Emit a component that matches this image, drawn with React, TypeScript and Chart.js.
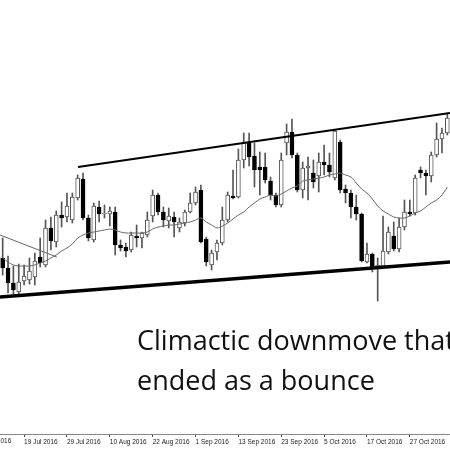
import React, { useEffect, useRef } from 'react';
import { Chart, registerables } from 'chart.js';

Chart.register(...registerables);

// One bar per trading day, 13 Jul 2016 .. 7 Nov 2016
const dates = [
  '13 Jul 2016', '14 Jul 2016', '15 Jul 2016', '18 Jul 2016', '19 Jul 2016', '20 Jul 2016', '21 Jul 2016',
  '22 Jul 2016', '25 Jul 2016', '26 Jul 2016', '27 Jul 2016', '28 Jul 2016', '29 Jul 2016',
  '1 Aug 2016', '2 Aug 2016', '3 Aug 2016', '4 Aug 2016', '5 Aug 2016', '8 Aug 2016', '9 Aug 2016',
  '10 Aug 2016', '11 Aug 2016', '12 Aug 2016', '15 Aug 2016', '16 Aug 2016', '17 Aug 2016', '18 Aug 2016',
  '19 Aug 2016', '22 Aug 2016', '23 Aug 2016', '24 Aug 2016', '25 Aug 2016', '26 Aug 2016', '29 Aug 2016',
  '30 Aug 2016', '31 Aug 2016',
  '1 Sep 2016', '2 Sep 2016', '5 Sep 2016', '6 Sep 2016', '7 Sep 2016', '8 Sep 2016', '9 Sep 2016',
  '12 Sep 2016', '13 Sep 2016', '14 Sep 2016', '15 Sep 2016', '16 Sep 2016', '19 Sep 2016', '20 Sep 2016',
  '21 Sep 2016', '22 Sep 2016', '23 Sep 2016', '26 Sep 2016', '27 Sep 2016', '28 Sep 2016', '29 Sep 2016',
  '30 Sep 2016',
  '3 Oct 2016', '4 Oct 2016', '5 Oct 2016', '6 Oct 2016', '7 Oct 2016', '10 Oct 2016', '11 Oct 2016',
  '12 Oct 2016', '13 Oct 2016', '14 Oct 2016', '17 Oct 2016', '18 Oct 2016', '19 Oct 2016', '20 Oct 2016',
  '21 Oct 2016', '24 Oct 2016', '25 Oct 2016', '26 Oct 2016', '27 Oct 2016', '28 Oct 2016', '31 Oct 2016',
  '1 Nov 2016', '2 Nov 2016', '3 Nov 2016', '4 Nov 2016', '7 Nov 2016',
];

const tickDates = [
  '19 Jul 2016', '29 Jul 2016', '10 Aug 2016', '22 Aug 2016', '1 Sep 2016',
  '13 Sep 2016', '23 Sep 2016', '5 Oct 2016', '17 Oct 2016', '27 Oct 2016',
];
const offChartTick = '7 Jul 2016';
const offChartTickBarsBefore = 4;

const open = [
  176, 166, 151, 142, 153, 154, 157, 177, 169, 206, 192, 219, 217, 214, 236, 255, 216, 194, 227, 220,
  220, 222, 189, 187, 184, 198, 196, 199, 218, 239, 222, 213, 217, 206, 211, 222, 231, 244, 195, 169,
  182, 191, 214, 238, 237, 274, 291, 278, 267, 267, 253, 239, 229, 291, 302, 279, 244, 266, 261, 258,
  272, 269, 256, 292, 245, 241, 227, 220, 172, 180, 166, 168, 182, 198, 185, 207, 222, 221, 264, 261,
  258, 279, 295, 301,
];
const high = [
  196, 178, 168, 170, 169, 176, 181, 196, 214, 217, 223, 232, 241, 241, 259, 261, 219, 231, 233, 229,
  227, 227, 194, 191, 202, 209, 202, 222, 244, 241, 227, 226, 222, 216, 224, 241, 247, 249, 197, 184,
  194, 227, 242, 264, 285, 301, 301, 291, 282, 281, 257, 241, 281, 310, 315, 281, 272, 277, 274, 281,
  289, 281, 304, 294, 249, 244, 239, 221, 191, 181, 176, 218, 207, 212, 216, 234, 234, 259, 267, 264,
  282, 311, 306, 321,
];
const low = [
  159, 141, 139, 139, 149, 150, 149, 167, 167, 184, 187, 207, 212, 211, 234, 214, 193, 192, 212, 216,
  208, 179, 183, 177, 182, 187, 186, 197, 212, 219, 207, 206, 197, 202, 208, 221, 229, 191, 168, 164,
  174, 189, 212, 235, 236, 266, 268, 247, 239, 251, 234, 227, 227, 279, 276, 242, 236, 234, 246, 242,
  259, 257, 254, 241, 231, 216, 214, 172, 171, 162, 133, 166, 180, 183, 182, 204, 218, 219, 256, 239,
  252, 277, 281, 299,
];
const close = [
  166, 151, 144, 152, 158, 163, 173, 171, 206, 193, 219, 216, 228, 237, 256, 216, 196, 228, 220, 221,
  223, 189, 186, 183, 199, 196, 201, 214, 239, 222, 214, 218, 212, 212, 222, 231, 242, 192, 172, 181,
  191, 214, 239, 236, 274, 291, 277, 264, 264, 254, 239, 229, 274, 302, 279, 244, 266, 268, 252, 272,
  269, 262, 303, 244, 241, 227, 220, 173, 180, 166, 169, 183, 202, 185, 207, 222, 220, 256, 261, 258,
  279, 295, 301, 316,
];

// Moving average, one value per bar
const maValues = [
  176, 172, 169, 168, 168, 168, 169, 171, 173, 176, 179, 183, 186, 190, 196, 199, 201, 202, 203, 204,
  205, 204, 202, 201, 201, 201, 201, 202, 205, 207, 208, 209, 209, 210, 211, 212, 214, 216, 212, 209,
  206, 208, 211, 215, 219, 222, 227, 231, 235, 237, 239, 238, 240, 243, 246, 248, 253, 254, 255, 256,
  257, 259, 260, 261, 259, 257, 251, 245, 241, 235, 228, 223, 220, 217, 216, 216, 218, 221, 223, 227,
  231, 234, 239, 247,
];

// Hand-drawn lines: [bar index, price]
const upperTrend = [{ x: 14.06, y: 267 }, { x: 83.5, y: 321 }];
const lowerTrend = [{ x: -0.5, y: 137 }, { x: 83.5, y: 172 }];
const olderLine = [{ x: -0.5, y: 199 }, { x: 10.1, y: 177 }];

const annotationLines = ['Climactic downmove that', 'ended as a bounce'];

export default function App() {
  const ref = useRef<HTMLCanvasElement>(null);

  useEffect(() => {
    document.body.style.margin = '0';
    const canvas = ref.current;
    if (!canvas) return;
    const bull = close.map((c, i) => c >= open[i]);
    const tickSet = new Set(tickDates);

    const annotPlugin = {
      id: 'annot',
      afterDraw(chart: any) {
        const { ctx } = chart;
        const xs = chart.scales.x;
        const step = xs.getPixelForValue(1) - xs.getPixelForValue(0);
        ctx.save();
        ctx.font = '6.5px "Liberation Sans"';
        ctx.fillStyle = '#222';
        ctx.textBaseline = 'top';
        ctx.textAlign = 'left';
        ctx.fillText(offChartTick, xs.getPixelForValue(0) - offChartTickBarsBefore * step, xs.top + 4);
        ctx.font = '27px "Open Sans"';
        ctx.fillStyle = '#111';
        ctx.textBaseline = 'alphabetic';
        ctx.fillText(annotationLines[0], 137, 350);
        ctx.fillText(annotationLines[1], 137, 390);
        ctx.restore();
      },
    };

    const chart = new Chart(canvas, {
      type: 'bar',
      data: {
        labels: dates,
        datasets: [
          {
            type: 'line', label: 'upper', data: upperTrend, xAxisID: 'xl',
            borderColor: '#000', borderWidth: 2, pointRadius: 0, order: 0,
          } as any,
          {
            type: 'line', label: 'lower', data: lowerTrend, xAxisID: 'xl',
            borderColor: '#000', borderWidth: 3.5, pointRadius: 0, order: 0,
          } as any,
          {
            type: 'line', label: 'older', data: olderLine, xAxisID: 'xl',
            borderColor: '#666', borderWidth: 1, pointRadius: 0, order: 1,
          } as any,
          {
            type: 'line', label: 'MA', data: maValues.map((v, i) => ({ x: i, y: v })), xAxisID: 'xl',
            borderColor: '#666', borderWidth: 1, pointRadius: 0, tension: 0.3, order: 1,
          } as any,
          {
            type: 'bar', label: 'bodies', data: open.map((o, i) => [o, close[i]]),
            backgroundColor: bull.map((b) => (b ? '#fff' : '#000')),
            borderColor: bull.map((b) => (b ? '#555' : '#000')),
            borderWidth: 1, borderSkipped: false, barThickness: 4, grouped: false, order: 2,
          } as any,
          {
            type: 'bar', label: 'wicks', data: low.map((l, i) => [l, high[i]]),
            backgroundColor: '#555', barThickness: 1, grouped: false, order: 3,
          } as any,
        ],
      },
      options: {
        animation: false,
        responsive: false,
        maintainAspectRatio: false,
        events: [],
        layout: { padding: 0 },
        plugins: { legend: { display: false }, tooltip: { enabled: false } },
        scales: {
          x: {
            type: 'category',
            offset: true,
            grid: {
              display: true, drawOnChartArea: false, drawTicks: true, tickLength: 3, offset: false,
              color: (c: any) => (tickSet.has(dates[c.index]) ? '#444' : 'rgba(0,0,0,0)'),
            },
            border: { display: true, color: '#888', width: 1 },
            ticks: {
              autoSkip: false, maxRotation: 0, minRotation: 0, align: 'start', padding: 1,
              color: '#222', font: { family: 'Liberation Sans', size: 6.5 },
              callback: (_v: any, i: number) => (tickSet.has(dates[i]) ? dates[i] : ''),
            },
            afterFit: (s: any) => { s.height = 16; },
          } as any,
          xl: {
            type: 'linear', axis: 'x', position: 'bottom', display: false,
            offset: false, min: -0.5, max: 83.5,
          } as any,
          y: { display: false, min: 0, max: 434 },
        },
      },
      plugins: [annotPlugin],
    });
    return () => chart.destroy();
  }, []);

  return (
    <div style={{ width: 450, height: 450, background: '#fff' }}>
      <canvas ref={ref} width={450} height={450} style={{ display: 'block' }} />
    </div>
  );
}
